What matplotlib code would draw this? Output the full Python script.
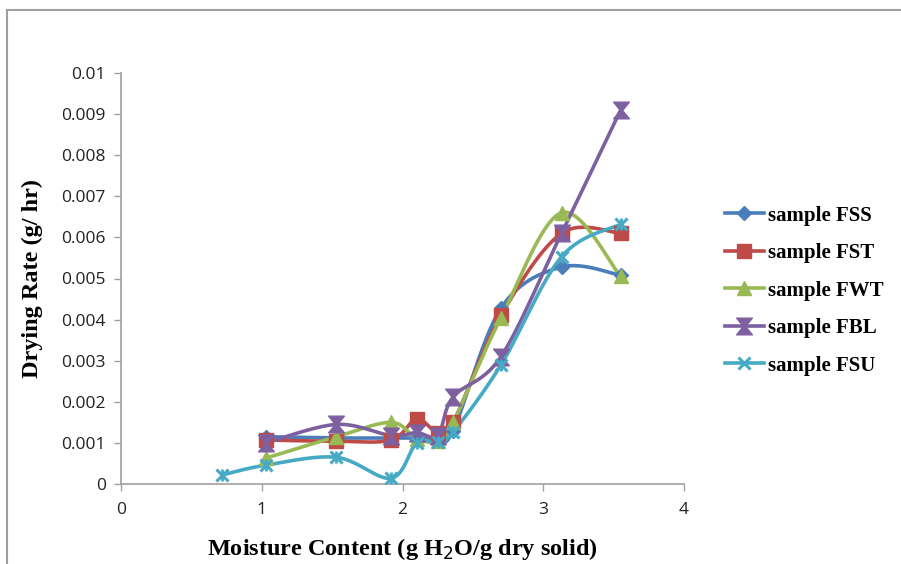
import numpy as np
import matplotlib
matplotlib.use("Agg")
import matplotlib.pyplot as plt
from matplotlib.lines import Line2D

# ---- data ----
x_common = [1.03, 1.53, 1.92, 2.10, 2.25, 2.36, 2.70, 3.13, 3.55]
fss = [0.00115, 0.00112, 0.00112, 0.00112, 0.00112, 0.00130, 0.00428, 0.00528, 0.00508]
fst = [0.00107, 0.00104, 0.00107, 0.00158, 0.00125, 0.00150, 0.00410, 0.00610, 0.00610]
fwt = [0.00063, 0.00115, 0.00150, 0.00110, 0.00105, 0.00150, 0.00405, 0.00660, 0.00505]
fbl = [0.00100, 0.00145, 0.00118, 0.00125, 0.00118, 0.00212, 0.00310, 0.00610, 0.00910]
x_fsu = [0.72, 1.03, 1.53, 1.92, 2.10, 2.25, 2.36, 2.70, 3.13, 3.55]
fsu = [0.00022, 0.00046, 0.00065, 0.00014, 0.00099, 0.00103, 0.00127, 0.00290, 0.00553, 0.00632]

labels = ["sample FSS", "sample FST", "sample FWT", "sample FBL", "sample FSU"]
colors = ["#4a7ebb", "#be4b48", "#98b954", "#7d60a0", "#46aac5"]
markers = ["D", "s", "^", "$\u29d7$", "x"]
sizes = [7, 10, 10, 12, 9]

series = [(x_common, fss), (x_common, fst), (x_common, fwt), (x_common, fbl), (x_fsu, fsu)]


def smooth(xs, ys, n=30):
    p = np.column_stack([xs, ys]).astype(float)
    out = [p[0]]
    for i in range(len(p) - 1):
        p0 = p[i - 1] if i > 0 else p[i]
        p1 = p[i]
        p2 = p[i + 1]
        p3 = p[i + 2] if i + 2 < len(p) else p[i + 1]
        c1 = p1 + (p2 - p0) / 6.0
        c2 = p2 - (p3 - p1) / 6.0
        t = np.linspace(0, 1, n)[1:, None]
        b = ((1 - t) ** 3) * p1 + 3 * ((1 - t) ** 2) * t * c1 + 3 * (1 - t) * t ** 2 * c2 + t ** 3 * p2
        out.extend(b)
    out = np.array(out)
    return out[:, 0], out[:, 1]


fig = plt.figure(figsize=(9.01, 5.64), dpi=100)
ax = fig.add_axes([121 / 901, 1 - 484 / 564, (684 - 121) / 901, (484 - 73) / 564])

for (xs, ys), c, m, s in zip(series, colors, markers, sizes):
    sx, sy = smooth(xs, ys)
    ax.plot(sx, sy, color=c, lw=2.6, solid_capstyle="round", zorder=2)
    if m == "x":
        ax.plot(xs, ys, ls="none", marker="x", color=c, ms=s, mew=2.2, zorder=3)
        ax.plot(xs, ys, ls="none", marker="|", color=c, ms=s, mew=2.0, zorder=3)
    else:
        ax.plot(xs, ys, ls="none", marker=m, color=c, ms=s, mec=c, zorder=3)

ax.set_xlim(0, 4)
ax.set_ylim(0, 0.01)
ax.set_xticks([0, 1, 2, 3, 4])
ax.set_yticks(np.arange(0, 0.0101, 0.001))
ax.set_yticklabels(["0", "0.001", "0.002", "0.003", "0.004", "0.005", "0.006",
                    "0.007", "0.008", "0.009", "0.01"])
for sp in ["top", "right"]:
    ax.spines[sp].set_visible(False)
for sp in ["left", "bottom"]:
    ax.spines[sp].set_color("#a0a0a0")
    ax.spines[sp].set_linewidth(1.2)
ax.tick_params(axis="both", colors="#a0a0a0", length=5, width=1.0, direction="out",
               labelcolor="#222222", labelsize=12.5)
for lab in ax.get_xticklabels() + ax.get_yticklabels():
    lab.set_family("Open Sans")
ax.tick_params(axis="y", pad=6)
ax.tick_params(axis="x", pad=8)

ax.set_xlabel("Moisture Content (g H$_2$O/g dry solid)", fontfamily="Liberation Serif",
              fontweight="bold", fontsize=17.5, labelpad=13)
ax.set_ylabel("Drying Rate (g/ hr)", fontfamily="Liberation Serif", fontweight="bold",
              fontsize=17.5, labelpad=13)

handles = []
for c, m, s in zip(colors, markers, sizes):
    if m == "x":
        handles.append(Line2D([0], [0], color=c, lw=2.6, marker="x", ms=s, mew=2.2))
    else:
        handles.append(Line2D([0], [0], color=c, lw=2.6, marker=m, ms=s, mec=c))
leg = fig.legend(handles, labels, loc="upper left", bbox_to_anchor=(710 / 901, 1 - 191 / 564),
                 frameon=False, prop={"family": "Liberation Serif", "weight": "bold", "size": 15},
                 handlelength=1.9, labelspacing=0.84, handletextpad=0.2, borderpad=0.2)

# chart area border
fig.add_artist(Line2D([7 / 901, 7 / 901], [0, 1 - 10 / 564], color="#a0a0a0", lw=1.5,
                      transform=fig.transFigure))
fig.add_artist(Line2D([7 / 901, 1], [1 - 10 / 564, 1 - 10 / 564], color="#a0a0a0", lw=1.5,
                      transform=fig.transFigure))

fig.savefig("out.png", dpi=100)
